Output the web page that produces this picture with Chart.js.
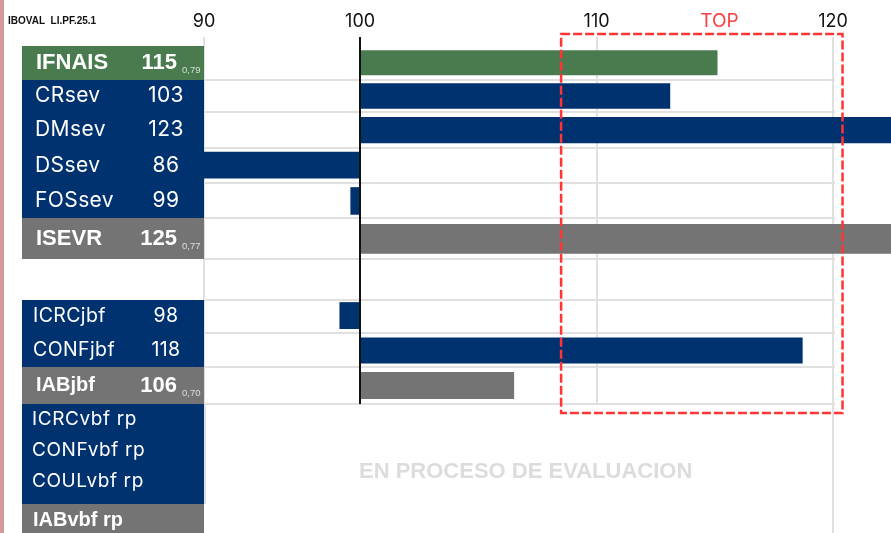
<!DOCTYPE html>
<html lang="es">
<head>
<meta charset="UTF-8">
<title>IBOVAL LI.PF.25.1</title>
<script src="https://cdn.jsdelivr.net/npm/chart.js@4.4.1/dist/chart.umd.min.js"></script>
<style>
html, body { margin:0; padding:0; background:#fff; }
#wrap { position:relative; width:891px; height:533px; }
</style>
</head>
<body>
<div id="wrap"><canvas id="ibovalChart"></canvas></div>
<script>
// --- datos ---
var rowLabels   = ["IFNAIS", "CRsev", "DMsev", "DSsev", "FOSsev", "ISEVR", "", "ICRCjbf", "CONFjbf", "IABjbf"];
var rowKinds    = ["global", "trait", "trait", "trait", "trait", "index", "gap", "trait", "trait", "index"];
var shownValues = ["115", "103", "123", "86", "99", "125", "", "98", "118", "106"];
var accuracy    = ["0,79", "", "", "", "", "0,77", "", "", "", "0,70"];
var barValues   = [115.1, 113.1, 123, 86, 99.4, 125, null, 98.7, 118.7, 106.5];
var pendingLabels = ["ICRCvbf rp", "CONFvbf rp", "COULvbf rp", "IABvbf rp"];
var pendingKinds  = ["trait", "trait", "trait", "index"];
var tickValues  = [90, 100, 110, 120];
var topZone     = [108.5, 120.4];
var topLabel    = "TOP";
var pendingNote = "EN PROCESO DE EVALUACION";
var chartTitle  = "IBOVAL  LI.PF.25.1";

// --- estilo / layout ---
var rowHeights = [33.5, 32.5, 35.5, 35.5, 34.5, 41, 41.5, 33, 34, 37];
var colors = { global: "#4a7b4f", trait: "#013270", index: "#747474" };
var gridColor = "#e0e0e0";
var sansFont = "Inter, 'Noto Sans', sans-serif";
var boldFont = "'Liberation Sans', Arial, sans-serif";

// tramo 90-100 comprimido respecto a 100-120
function sc(v) { return v >= 100 ? v : 100 - (100 - v) * 0.66; }

// eje de categorias con filas de alto variable
class RowScale extends Chart.CategoryScale {
  getPixelForDecimal(decimal) {
    var n = rowHeights.length, total = 0, acc = 0, i;
    for (i = 0; i < n; i++) total += rowHeights[i];
    var u = decimal * n;
    var k = Math.min(n - 1, Math.max(0, Math.floor(u)));
    for (i = 0; i < k; i++) acc += rowHeights[i];
    return super.getPixelForDecimal((acc + (u - k) * rowHeights[k]) / total);
  }
}
RowScale.id = "rows";
RowScale.defaults = Chart.CategoryScale.defaults;
Chart.register(RowScale);

function line(ctx, x1, y1, x2, y2) {
  ctx.beginPath(); ctx.moveTo(x1, y1); ctx.lineTo(x2, y2); ctx.stroke();
}

var layoutPlugin = {
  id: "ibovalLayout",
  beforeDatasetsDraw: function (chart) {
    var ctx = chart.ctx, x = chart.scales.x, y = chart.scales.y, a = chart.chartArea;
    var right = x.getPixelForValue(120) + 2;
    ctx.save();
    ctx.strokeStyle = gridColor;
    ctx.lineWidth = 2;
    for (var i = 1; i <= rowLabels.length; i++) {
      var py = Math.round(y.getPixelForValue(i - 0.5));
      line(ctx, a.left, py, right, py);
    }
    var x120 = Math.round(x.getPixelForValue(120));
    line(ctx, x120, a.bottom, x120, chart.height);
    line(ctx, a.left + 1, a.bottom, a.left + 1, a.bottom + 100);
    ctx.restore();
  },
  afterDatasetsDraw: function (chart) {
    var ctx = chart.ctx, x = chart.scales.x, a = chart.chartArea;
    ctx.save();
    // linea de referencia 100
    ctx.strokeStyle = "#111";
    ctx.lineWidth = 2;
    var x100 = Math.round(x.getPixelForValue(100));
    line(ctx, x100, a.top - 4, x100, a.bottom);
    // zona TOP
    ctx.strokeStyle = "#ff3535";
    ctx.lineWidth = 2.5;
    ctx.setLineDash([9, 3]);
    var l = x.getPixelForValue(sc(topZone[0])), r = x.getPixelForValue(sc(topZone[1]));
    ctx.strokeRect(l, a.top - 12, r - l, a.bottom - a.top + 21);
    ctx.restore();
  },
  afterDraw: function (chart) {
    var ctx = chart.ctx, x = chart.scales.x, y = chart.scales.y, a = chart.chartArea;
    var left = 22, right = a.left;
    ctx.save();
    // franja rosa
    ctx.fillStyle = "#d4979a";
    ctx.fillRect(0, 0, 4, chart.height);

    // titulo
    ctx.fillStyle = "#111";
    ctx.font = "bold 10px " + boldFont;
    ctx.textBaseline = "middle";
    ctx.textAlign = "left";
    ctx.fillText(chartTitle, 8, 21);

    // TOP
    ctx.fillStyle = "#ff4040";
    ctx.font = "19px " + sansFont;
    ctx.textAlign = "center";
    ctx.fillText(topLabel, x.getPixelForValue(115.2), 21);

    // panel de caracteres
    rowLabels.forEach(function (name, i) {
      var kind = rowKinds[i];
      if (kind === "gap") return;
      var top = Math.round(y.getPixelForValue(i - 0.5));
      var bot = Math.round(y.getPixelForValue(i + 0.5));
      var mid = (top + bot) / 2;
      ctx.fillStyle = colors[kind];
      ctx.fillRect(left, top, right - left, bot - top);
      ctx.fillStyle = "#fff";
      ctx.textBaseline = "middle";
      var size = i < 6 ? 21 : 19.5;
      if (kind === "trait") {
        ctx.font = size + "px " + sansFont;
        ctx.letterSpacing = "0.4px";
        ctx.textAlign = "left";
        ctx.fillText(name, i < 6 ? 35 : 33, mid);
        ctx.textAlign = "center";
        ctx.fillText(shownValues[i], 166, mid);
        ctx.letterSpacing = "0px";
      } else {
        ctx.font = "bold " + (i < 6 ? 22 : 20) + "px " + boldFont;
        ctx.textAlign = "left";
        ctx.fillText(name, 36, mid);
        ctx.font = "bold 22px " + boldFont;
        ctx.textAlign = "right";
        ctx.fillText(shownValues[i], 177, mid);
        ctx.font = "9.5px " + boldFont;
        ctx.textAlign = "left";
        ctx.textBaseline = "alphabetic";
        ctx.fillStyle = "rgba(255,255,255,0.75)";
        ctx.fillText(accuracy[i], 182, mid + 10);
      }
    });

    // caracteres en evaluacion
    var top = Math.round(a.bottom);
    ctx.fillStyle = colors.trait;
    ctx.fillRect(left, top, right - left, 100);
    ctx.fillStyle = colors.index;
    ctx.fillRect(left, top + 100, right - left, chart.height - top - 100);
    ctx.fillStyle = "#fff";
    ctx.textAlign = "left";
    ctx.textBaseline = "middle";
    var n = 0;
    pendingLabels.forEach(function (name, i) {
      if (pendingKinds[i] === "trait") {
        ctx.font = "19px " + sansFont;
        ctx.letterSpacing = "0.6px";
        ctx.fillText(name, 32, top + 15 + 31 * n);
        ctx.letterSpacing = "0px";
        n++;
      } else {
        ctx.font = "bold 20px " + boldFont;
        ctx.fillText(name, 33, top + 116);
      }
    });

    // nota
    ctx.fillStyle = "#dcdcdc";
    ctx.font = "bold 22px " + boldFont;
    ctx.textAlign = "center";
    ctx.fillText(pendingNote, x.getPixelForValue(107), 472);
    ctx.restore();
  }
};

new Chart("ibovalChart", {
  type: "bar",
  data: {
    labels: rowLabels,
    datasets: [{
      data: barValues.map(function (v) { return v === null ? null : [100, sc(v)]; }),
      backgroundColor: rowKinds.map(function (k) { return colors[k] || "transparent"; }),
      barThickness: "flex",
      categoryPercentage: 1,
      barPercentage: 0.74
    }]
  },
  options: {
    indexAxis: "y",
    responsive: true,
    maintainAspectRatio: false,
    animation: false,
    events: [],
    layout: { padding: { left: 204, right: 0, top: 10, bottom: 129 } },
    plugins: { legend: { display: false }, tooltip: { enabled: false } },
    scales: {
      x: {
        type: "linear",
        position: "top",
        min: sc(90),
        max: 122.45,
        afterBuildTicks: function (axis) {
          axis.ticks = tickValues.map(function (v) { return { value: sc(v) }; });
        },
        afterFit: function (axis) { axis.height = 36; },
        border: { display: false },
        grid: {
          lineWidth: 2,
          tickLength: 9,
          color: function (c) { return c.tick && c.tick.value === 100 ? "#111" : gridColor; }
        },
        ticks: {
          padding: 5,
          maxRotation: 0,
          color: "#111",
          font: { family: sansFont, size: 18 },
          callback: function (value, index) { return tickValues[index]; }
        }
      },
      y: {
        type: "rows",
        display: false,
        offset: true
      }
    }
  },
  plugins: [layoutPlugin]
});
</script>
</body>
</html>
